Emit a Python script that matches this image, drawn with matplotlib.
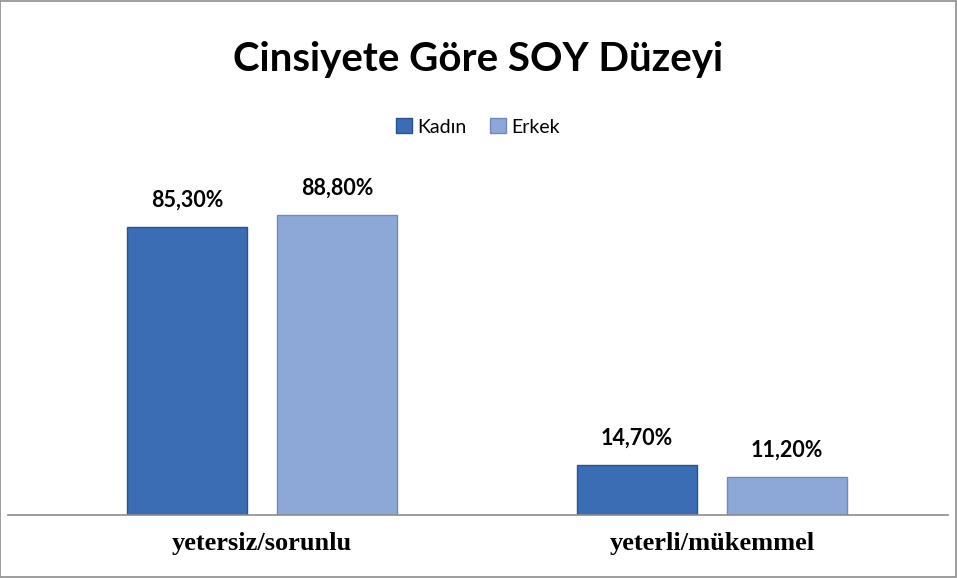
import matplotlib
matplotlib.use('Agg')
import matplotlib.pyplot as plt
from matplotlib.patches import Rectangle
import numpy as np

categories = ['yetersiz/sorunlu', 'yeterli/mükemmel']
series_names = ['Kadın', 'Erkek']
kadin = [85.3, 14.7]
erkek = [88.8, 11.2]
value_labels = [['85,30%', '14,70%'], ['88,80%', '11,20%']]

colors = ['#3A6DB3', '#8DA8D6']
edges = ['#2A5290', '#6F89B8']

fig = plt.figure(figsize=(9.57, 5.78), dpi=100)
# chart border
fig.patches.append(Rectangle((0.0005, 0.001), 0.998, 0.997, transform=fig.transFigure,
                             fill=False, edgecolor='#8C8C8C', linewidth=1.2))

ax = fig.add_axes([8 / 957, 63 / 578, 940 / 957, 355 / 578])
x = np.arange(len(categories))
w = 0.2667
off = 0.1667
for i, (vals, name) in enumerate(zip([kadin, erkek], series_names)):
    pos = x + (off if i else -off)
    bars = ax.bar(pos, vals, w, color=colors[i], edgecolor=edges[i], linewidth=1.0, label=name)
    for b, lab in zip(bars, value_labels[i]):
        ax.text(b.get_x() + b.get_width() / 2, b.get_height() + 8, lab,
                ha='center', va='center', fontsize=15.5, fontweight='bold', family='Lato')

ax.set_xlim(-0.5644, 1.5244)
ax.set_ylim(0, 105.15)
for s in ['left', 'right', 'top']:
    ax.spines[s].set_visible(False)
ax.spines['bottom'].set_color('#8C8C8C')
ax.spines['bottom'].set_linewidth(1.2)
ax.set_yticks([])
ax.set_xticks(x)
ax.set_xticklabels(categories, family='Liberation Serif', fontweight='bold', fontsize=19)
ax.tick_params(axis='x', length=0, pad=12)

fig.text(0.4995, 1 - 60 / 578, 'Cinsiyete Göre SOY Düzeyi', ha='center', va='center',
         fontsize=29, fontweight='bold', family='Lato')
fig.legend(loc='center', bbox_to_anchor=(0.4995, 1 - 127 / 578), ncol=2, frameon=False,
           prop={'family': 'Lato', 'size': 14}, handlelength=0.8, handleheight=0.8,
           handletextpad=0.3, columnspacing=1.2)

fig.savefig('out.png', dpi=100)
